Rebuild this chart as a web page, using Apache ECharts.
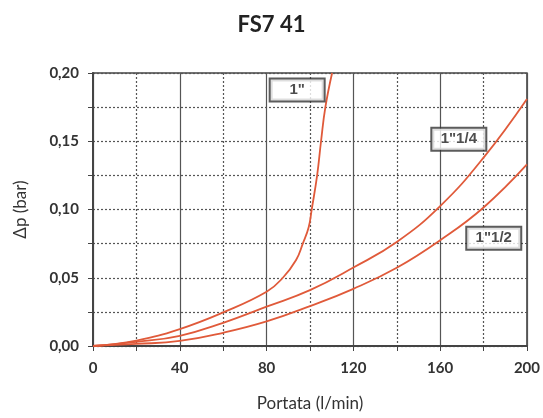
<!DOCTYPE html>
<html>
<head>
<meta charset="utf-8">
<script src="https://cdn.jsdelivr.net/npm/echarts@6/dist/echarts.min.js"></script>
<style>html,body{margin:0;padding:0;background:#fff;}#c{width:543px;height:418px;}</style>
</head>
<body>
<div id="c"></div>
<script>
const title = 'FS7 41';
const xName = 'Portata (l/min)';
const yName = 'Δp (bar)';
const seriesNames = ['1"', '1"1/4', '1"1/2'];
const curve1 = [[0,0],[20,0.004],[40,0.0124],[60,0.0246],[80,0.0397],[87.5,0.05],[93.6,0.063],[96.7,0.075],[99.4,0.087],[100.8,0.10],[103.3,0.125],[105.1,0.15],[107.1,0.175],[110.2,0.20]];
const curve114 = [[0,0],[20,0.003],[40,0.0075],[60,0.017],[80,0.0288],[100,0.0409],[120,0.0575],[140,0.0762],[160,0.1025],[180,0.138],[200,0.181]];
const curve112 = [[0,0],[20,0.0015],[40,0.0037],[60,0.0097],[80,0.018],[100,0.0292],[120,0.0419],[140,0.0573],[160,0.0775],[180,0.1015],[200,0.133]];
const labelPos = [[94.1,0.1876],[168.6,0.1514],[184.7,0.079]];

const chart = echarts.init(document.getElementById('c'));
const red = '#e05a3a';
const dotted = {color:'#555', width:1.2, type:[2,2]};
const lineSeries = [curve1, curve114, curve112].map((d,i)=>({
  type:'line', name:seriesNames[i], data:d, smooth:0.45,
  showSymbol:false, symbol:'none', lineStyle:{color:red, width:1.8}, z:3
}));
chart.setOption({
  animation:false,
  title:{text:title, left:'center', top:9, textStyle:{fontFamily:'Lato', fontWeight:'bold', fontSize:22, color:'#222'}},
  grid:{left:93, right:15, top:73, bottom:72, show:true, borderColor:'#444', borderWidth:1.5, backgroundColor:'#fff'},
  xAxis:{type:'value', min:0, max:200, interval:40,
    name:xName, nameLocation:'middle', nameGap:49,
    nameTextStyle:{fontFamily:'Lato', fontSize:17, color:'#333'},
    axisLine:{show:true, lineStyle:{color:'#444', width:2}},
    axisTick:{show:true, length:5, lineStyle:{color:'#444'}},
    minorTick:{show:true, splitNumber:2, length:5, lineStyle:{color:'#444'}},
    axisLabel:{fontFamily:'Lato', fontWeight:'bold', fontSize:15, color:'#333', margin:15},
    splitLine:{show:true, lineStyle:{color:'#555', width:1.2}},
    minorSplitLine:{show:true, lineStyle:dotted}
  },
  yAxis:{type:'value', min:0, max:0.2, interval:0.05,
    name:yName, nameLocation:'middle', nameGap:64,
    nameTextStyle:{fontFamily:'Lato', fontSize:17, color:'#333'},
    axisLine:{show:true, lineStyle:{color:'#444', width:2}},
    axisTick:{show:true, length:5, lineStyle:{color:'#444'}},
    minorTick:{show:true, splitNumber:2, length:5, lineStyle:{color:'#444'}},
    axisLabel:{fontFamily:'Lato', fontWeight:'bold', fontSize:15, color:'#333', margin:14,
      formatter:v=>v.toFixed(2).replace('.',',')},
    splitLine:{show:true, lineStyle:dotted},
    minorSplitLine:{show:true, lineStyle:dotted}
  },
  series: lineSeries.concat([{
    type:'scatter', symbolSize:0, z:5, silent:true,
    data: labelPos.map((p,i)=>({value:p, name:seriesNames[i]})),
    label:{show:true, position:'inside', formatter:p=>p.name,
      fontFamily:'Liberation Sans', fontWeight:'bold', fontSize:15, color:'#222',
      textBorderWidth:0, textShadowBlur:0,
      backgroundColor:'#fff', borderColor:'#333', borderWidth:2,
      width:53, height:21, align:'center', verticalAlign:'middle', lineHeight:21, padding:0}
  }])
});
</script>
</body>
</html>
